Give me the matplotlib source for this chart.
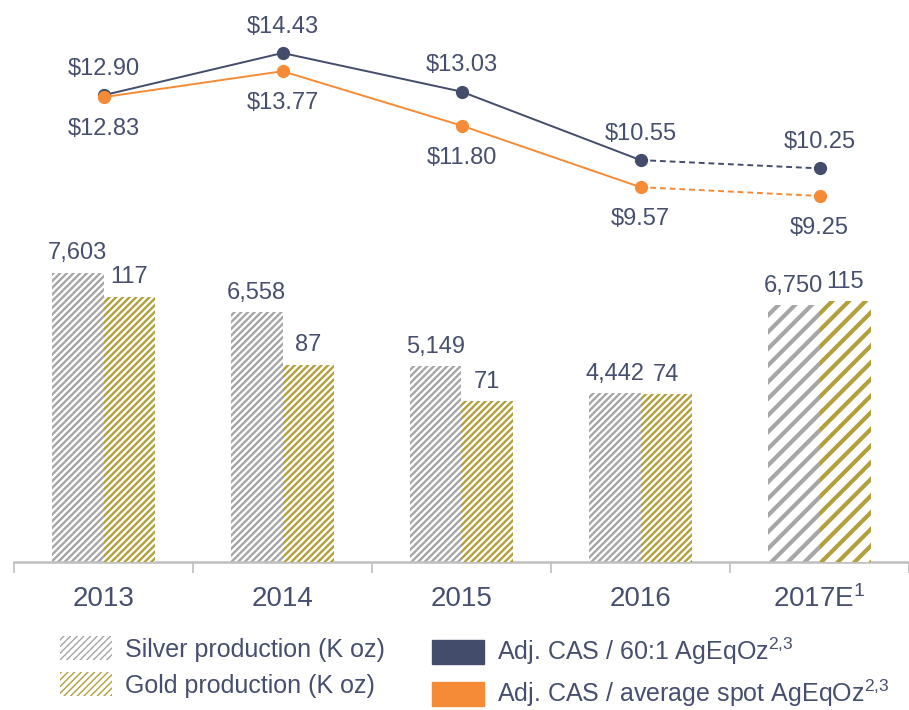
"""Production bars with adjusted CAS lines"""

import matplotlib.pyplot as plt
import matplotlib.patches as mpatches
import numpy as np

plt.rcParams["font.family"] = ["Liberation Sans", "DejaVu Sans"]
plt.rcParams["mathtext.fontset"] = "custom"
plt.rcParams["mathtext.rm"] = "Liberation Sans"
plt.rcParams["mathtext.it"] = "Liberation Sans"

YEARS = ["2013", "2014", "2015", "2016", "2017E$^1$"]
SILVER = [7603, 6558, 5149, 4442, 6750]
GOLD = [117, 87, 71, 74, 115]
CAS_60 = [12.90, 14.43, 13.03, 10.55, 10.25]
CAS_SPOT = [12.83, 13.77, 11.80, 9.57, 9.25]

TEXT = "#474F6E"
NAVY = "#434C6B"
ORANGE = "#F68B37"
SILVER_C = "#A6A6A6"
GOLD_C = "#B1A03C"
AXIS_C = "#BFBFBF"

BAR_W = 52 / 181
LABEL_FS = 17


def _hatched_bars(axis, xs, heights, color, hatch_dense, hatch_wide):
    bars = axis.bar(xs, heights, width=BAR_W, facecolor="white",
                    edgecolor=color, linewidth=0)
    for k, bar in enumerate(bars):
        wide = k == len(bars) - 1
        bar.set_hatch(hatch_wide if wide else hatch_dense)
        if hasattr(bar, "set_hatch_linewidth"):
            bar.set_hatch_linewidth(3.0 if wide else 1.7)
    return bars


figure = plt.figure(figsize=(9.09, 7.10), dpi=100)
axis = figure.add_axes([14 / 909, 1 - 562 / 710, 1 - 14 / 909, 562 / 710])
axis_gold = axis.twinx()
axis_line = axis.twinx()

x = np.arange(len(YEARS))

_hatched_bars(axis, x - BAR_W / 2, SILVER, SILVER_C, "/////", "//")
_hatched_bars(axis_gold, x + BAR_W / 2, GOLD, GOLD_C, "/////", "//")

for i, v in enumerate(SILVER):
    axis.annotate(f"{v:,}", (x[i] - BAR_W / 2, v), xytext=(0, 6),
                  textcoords="offset points", ha="center", va="bottom",
                  fontsize=LABEL_FS, color=TEXT)
for i, v in enumerate(GOLD):
    axis_gold.annotate(f"{v:,}", (x[i] + BAR_W / 2, v), xytext=(0, 6),
                       textcoords="offset points", ha="center", va="bottom",
                       fontsize=LABEL_FS, color=TEXT)

# solid part for actuals, dashed for the estimate
for values, color, z in [(CAS_60, NAVY, 3), (CAS_SPOT, ORANGE, 4)]:
    axis_line.plot(x[:4], values[:4], color=color, linewidth=1.4, zorder=z)
    axis_line.plot(x[3:], values[3:], color=color, linewidth=1.4,
                   linestyle=(0, (3, 2)), zorder=z)
    axis_line.plot(x, values, linestyle="", marker="o", markersize=8.5,
                   color=color, zorder=z + 1)

for i in range(len(YEARS)):
    axis_line.annotate(f"${CAS_60[i]:.2f}", (x[i], CAS_60[i]), xytext=(0, 19),
                       textcoords="offset points", ha="center", va="center",
                       fontsize=LABEL_FS, color=TEXT)
    axis_line.annotate(f"${CAS_SPOT[i]:.2f}", (x[i], CAS_SPOT[i]),
                       xytext=(0, -23), textcoords="offset points",
                       ha="center", va="center", fontsize=LABEL_FS, color=TEXT)

axis.set_xlim(-0.5, 4.445)
axis.set_ylim(0, 14770)
axis_gold.set_ylim(0, 247.8)
axis_line.set_ylim(-4.01, 16.35)

for a in (axis, axis_gold, axis_line):
    for side in ("top", "right", "left"):
        a.spines[side].set_visible(False)
    a.set_yticks([])
axis_gold.spines["bottom"].set_visible(False)
axis_line.spines["bottom"].set_visible(False)
axis.spines["bottom"].set_color(AXIS_C)
axis.spines["bottom"].set_linewidth(1.8)

axis.set_xticks(x)
axis.set_xticklabels(YEARS, fontsize=20, color=TEXT)
axis.tick_params(axis="x", which="major", length=0, pad=17)
axis.set_xticks(np.arange(-0.5, 5, 1), minor=True)
axis.tick_params(axis="x", which="minor", length=8, width=1.2, color=AXIS_C)

handles_left = [
    mpatches.Patch(facecolor="white", edgecolor=SILVER_C, linewidth=0,
                   hatch="/////", label="Silver production (K oz)"),
    mpatches.Patch(facecolor="white", edgecolor=GOLD_C, linewidth=0,
                   hatch="/////", label="Gold production (K oz)"),
]
handles_right = [
    mpatches.Patch(color=NAVY, label="Adj. CAS / 60:1 AgEqOz$^{2{,}3}$"),
    mpatches.Patch(color=ORANGE,
                   label="Adj. CAS / average spot AgEqOz$^{2{,}3}$"),
]
legend_opts = dict(loc="upper left", frameon=False, fontsize=18,
                   handlelength=2.08, handleheight=1.12, handletextpad=0.52,
                   labelspacing=0.42, borderpad=0, borderaxespad=0,
                   labelcolor=TEXT)
figure.legend(handles=handles_left,
              bbox_to_anchor=(60 / 909, 1 - 636 / 710), **legend_opts)
figure.legend(handles=handles_right,
              bbox_to_anchor=(432 / 909, 1 - 636 / 710), **legend_opts)

figure.savefig("out.png", dpi=100)
